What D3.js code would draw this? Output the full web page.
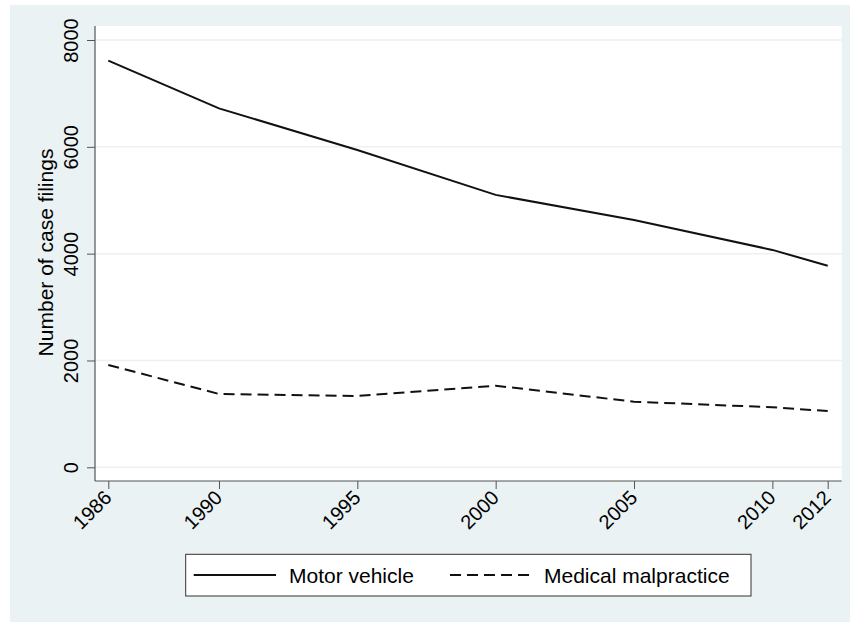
<!DOCTYPE html>
<html>
<head>
<meta charset="utf-8">
<script src="https://cdn.jsdelivr.net/npm/d3@7"></script>
<style>
  html, body { margin: 0; padding: 0; background: #ffffff; }
  svg { display: block; }
  text { font-family: "Liberation Sans", Arial, Helvetica, sans-serif; fill: #000; }
</style>
</head>
<body>
<svg id="chart" width="852" height="622"></svg>
<script>
const years = [1986, 1990, 1995, 2000, 2005, 2010, 2012];
const motorVehicle = [7615, 6720, 5940, 5100, 4630, 4070, 3775];
const medicalMalpractice = [1916, 1373, 1335, 1528, 1228, 1124, 1054];
const yTicks = [0, 2000, 4000, 6000, 8000];
const xTicks = [1986, 1990, 1995, 2000, 2005, 2010, 2012];
const seriesNames = ["Motor vehicle", "Medical malpractice"];

const svg = d3.select("#chart");
const bg = "#eaf2f3";

// graph region background
svg.append("rect").attr("x", 10).attr("y", 5).attr("width", 840).attr("height", 617).attr("fill", bg);

// plot region
const plot = { left: 95, right: 841.7, top: 26, bottom: 481 };
svg.append("rect").attr("x", plot.left).attr("y", plot.top)
  .attr("width", plot.right - plot.left).attr("height", plot.bottom - plot.top).attr("fill", "#ffffff");

const x = d3.scaleLinear().domain([1986, 2012]).range([108.3, 827.7]);
const y = d3.scaleLinear().domain([0, 8000]).range([467.3, 40]);

// grid lines
svg.append("g").selectAll("line").data(yTicks).join("line")
  .attr("x1", plot.left).attr("x2", plot.right)
  .attr("y1", d => y(d)).attr("y2", d => y(d))
  .attr("stroke", bg).attr("stroke-width", 1.5);

// y axis
const yAxis = d3.axisLeft(y).tickValues(yTicks).tickSize(8).tickSizeOuter(0).tickFormat(d3.format("d"));
const gy = svg.append("g").attr("transform", `translate(${plot.left},0)`).call(yAxis);
gy.select(".domain").remove();
gy.selectAll(".tick line").attr("stroke", "#555").attr("stroke-width", 1);
gy.selectAll(".tick text")
  .attr("font-size", 20)
  .attr("x", null).attr("dy", null)
  .attr("text-anchor", "middle")
  .attr("transform", "translate(-17,0) rotate(-90)");
svg.append("line").attr("x1", plot.left).attr("x2", plot.left)
  .attr("y1", plot.top).attr("y2", plot.bottom).attr("stroke", "#555").attr("stroke-width", 1.2);

// x axis
const xAxis = d3.axisBottom(x).tickValues(xTicks).tickSize(8).tickSizeOuter(0).tickFormat(d3.format("d"));
const gx = svg.append("g").attr("transform", `translate(0,${plot.bottom})`).call(xAxis);
gx.select(".domain").remove();
gx.selectAll(".tick line").attr("stroke", "#555").attr("stroke-width", 1);
gx.selectAll(".tick text")
  .attr("font-size", 20)
  .attr("y", null).attr("dy", null)
  .attr("text-anchor", "end")
  .attr("transform", "translate(4,18) rotate(-45)");
svg.append("line").attr("x1", plot.left).attr("x2", plot.right)
  .attr("y1", plot.bottom).attr("y2", plot.bottom).attr("stroke", "#555").attr("stroke-width", 1.2);

// y title
svg.append("text")
  .attr("transform", `translate(53,${(147 + 358) / 2}) rotate(-90)`)
  .attr("text-anchor", "middle")
  .attr("font-size", 21)
  .text("Number of case filings");

// lines
const line = d3.line().x((d, i) => x(years[i])).y(d => y(d));
svg.append("path").datum(motorVehicle).attr("d", line)
  .attr("fill", "none").attr("stroke", "#111").attr("stroke-width", 2);
svg.append("path").datum(medicalMalpractice).attr("d", line)
  .attr("fill", "none").attr("stroke", "#111").attr("stroke-width", 2)
  .attr("stroke-dasharray", "11,6");

// legend
const lg = svg.append("g");
lg.append("rect").attr("x", 185.7).attr("y", 554.3).attr("width", 565.3).attr("height", 41.7)
  .attr("fill", "#ffffff").attr("stroke", "#333").attr("stroke-width", 1);
const legendItems = [
  { name: seriesNames[0], x1: 193.7, x2: 276, tx: 289, dash: null },
  { name: seriesNames[1], x1: 450, x2: 532, tx: 544, dash: "11,6" }
];
legendItems.forEach(it => {
  lg.append("line").attr("x1", it.x1).attr("x2", it.x2).attr("y1", 575).attr("y2", 575)
    .attr("stroke", "#111").attr("stroke-width", 2).attr("stroke-dasharray", it.dash);
  lg.append("text").attr("x", it.tx).attr("y", 582.5).attr("font-size", 21).text(it.name);
});
</script>
</body>
</html>
